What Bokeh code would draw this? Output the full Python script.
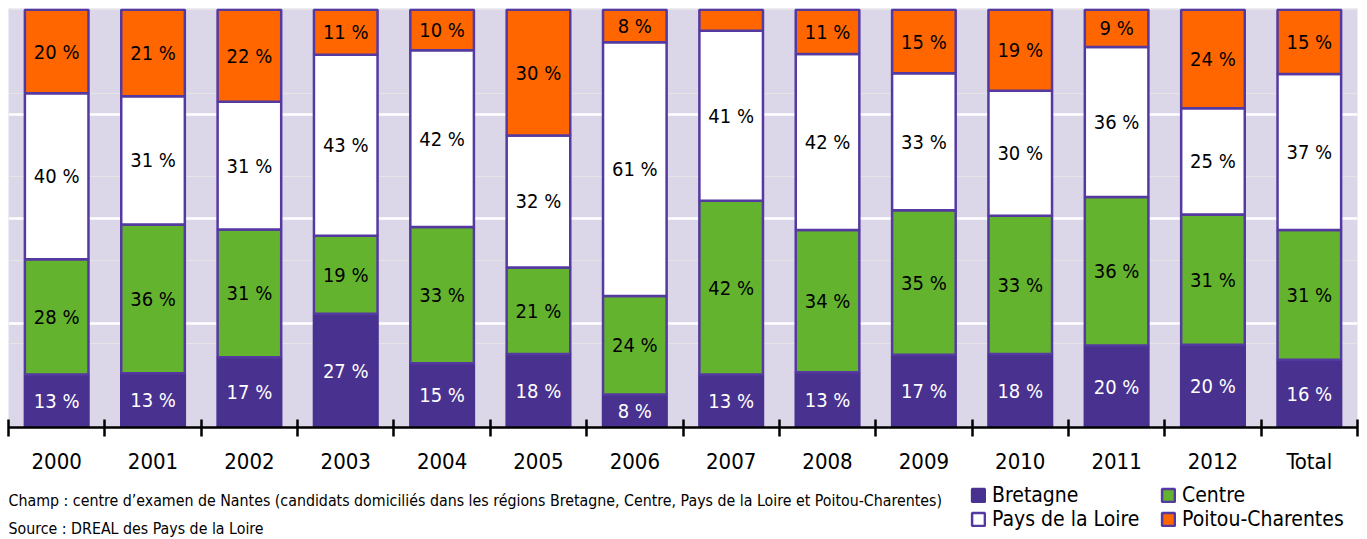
from bokeh.plotting import figure
from bokeh.layouts import column
from bokeh.models import (Range1d, FixedTicker, Legend, LegendItem,
                          ColumnDataSource, Grid)
from bokeh.embed import file_html
from bokeh.resources import INLINE
from bokeh.core.properties import value

# ---------------- data ----------------
categories = ["2000", "2001", "2002", "2003", "2004", "2005", "2006",
              "2007", "2008", "2009", "2010", "2011", "2012", "Total"]
bretagne = [12.7, 13.0, 16.8, 27.2, 15.4, 17.6, 7.9, 12.7, 13.2, 17.4, 17.6, 19.6, 19.8, 16.2]
centre = [27.6, 35.6, 30.6, 18.7, 32.6, 20.7, 23.6, 41.6, 34.1, 34.6, 33.1, 35.6, 31.2, 31.1]
pays_de_la_loire = [39.7, 30.7, 30.6, 43.3, 42.3, 31.6, 60.7, 40.7, 42.1, 32.8, 29.9, 35.9, 25.4, 37.3]
poitou_charentes = [20.0, 20.7, 22.0, 10.8, 9.7, 30.1, 7.8, 5.0, 10.6, 15.2, 19.4, 8.9, 23.6, 15.4]
series_names = ["Bretagne", "Centre", "Pays de la Loire", "Poitou-Charentes"]
note_champ = ("Champ : centre d\u2019examen de Nantes (candidats domicili\u00e9s dans les r\u00e9gions "
              "Bretagne, Centre, Pays de la Loire et Poitou-Charentes)")
note_source = "Source : DREAL des Pays de la Loire"

# ---------------- style ----------------
FONT = "Liberation Sans Narrow, DejaVu Sans Condensed, Noto Sans Condensed, Roboto"
PURPLE = "#48318f"
GREEN = "#64b32e"
ORANGE = "#ff6600"
WHITE = "#ffffff"
OUTLINE = "#5439a1"
BG = "#dbd7e9"
FILLS = [PURPLE, GREEN, WHITE, ORANGE]
LINES = [PURPLE, OUTLINE, OUTLINE, OUTLINE]

xs = [i + 0.5 for i in range(len(categories))]
src = ColumnDataSource(dict(x=xs, b=bretagne, c=centre, p=pays_de_la_loire, o=poitou_charentes))

LEFT, FRAME_W, RIGHT = 8, 1349, 9

# ---------------- main chart ----------------
p = figure(x_range=Range1d(0, len(categories)), y_range=Range1d(0, 100.3),
           output_backend="svg", toolbar_location=None,
           y_axis_location=None, min_border_left=LEFT, min_border_right=RIGHT,
           min_border_top=8, min_border_bottom=56)
p.frame_width = FRAME_W
p.frame_height = 419
p.background_fill_color = BG
p.border_fill_color = "white"
p.outline_line_color = None
p.xgrid.visible = False
p.add_layout(Grid(dimension=1, ticker=FixedTicker(ticks=[25, 50, 75]),
                  grid_line_color="white", grid_line_width=2.5))

p.vbar_stack(["b", "c", "p", "o"], x="x", width=0.66, source=src,
             fill_color=FILLS, line_color=LINES, line_width=2.5)

# segment labels
lx, ly, lt, lc = [], [], [], []
for i in range(len(categories)):
    bottom = 0.0
    for vals, col in ((bretagne, "white"), (centre, "black"),
                      (pays_de_la_loire, "black"), (poitou_charentes, "black")):
        v = vals[i]
        if v >= 6:
            lx.append(xs[i]); ly.append(bottom + v / 2)
            lt.append(f"{round(v)} %"); lc.append(col)
        bottom += v
p.text(x=lx, y=ly, text=lt, text_color=lc, text_font=value(FONT),
       text_font_size="20px", text_align="center", text_baseline="middle")

# x axis: boundary ticks as minor ticks, labels at centres
ax = p.xaxis[0]
ax.ticker = FixedTicker(ticks=xs, minor_ticks=list(range(len(categories) + 1)))
ax.major_label_overrides = {x: c for x, c in zip(xs, categories)}
ax.major_tick_in = 0
ax.major_tick_out = 0
ax.minor_tick_in = 8
ax.minor_tick_out = 9
ax.minor_tick_line_width = 2.5
ax.minor_tick_line_color = "black"
ax.axis_line_width = 2.5
ax.axis_line_color = "black"
ax.major_label_standoff = 12
ax.major_label_text_font = FONT
ax.major_label_text_font_size = "22px"
ax.major_label_text_color = "black"

# ---------------- footer (notes + legend), x in page pixels ----------------
FOOT_H = 55
f = figure(x_range=Range1d(LEFT, LEFT + FRAME_W), y_range=Range1d(0, FOOT_H),
           output_backend="svg", toolbar_location=None,
           min_border_left=LEFT, min_border_right=RIGHT, min_border_top=0, min_border_bottom=0,
           x_axis_location=None, y_axis_location=None)
f.frame_width = FRAME_W
f.frame_height = FOOT_H
f.outline_line_color = None
f.background_fill_color = "white"
f.border_fill_color = "white"
f.grid.visible = False

f.text(x=[8, 8], y=[38, 10], text=[note_champ, note_source], text_color="black",
       text_font=value(FONT), text_font_size="15.8px", text_baseline="middle", text_align="left")

# hidden copies of the series, only used as legend swatches
leg_rs = [f.vbar(x="x", top=col, width=0.66, source=src, fill_color=fc, line_color=lc_,
                 line_width=2.5, visible=False)
          for col, fc, lc_ in zip(["b", "c", "p", "o"], FILLS, LINES)]
legend = Legend(items=[LegendItem(label=n, renderers=[r]) for n, r in zip(series_names, leg_rs)],
                location=(962, 7), orientation="horizontal", ncols=2,
                glyph_width=16, glyph_height=16, label_standoff=6, spacing=0,
                label_width=168, padding=0, margin=0,
                border_line_alpha=0, background_fill_alpha=0,
                label_text_font=FONT, label_text_font_size="21px",
                label_text_color="black", label_text_line_height=1.0)
f.add_layout(legend)

layout = column(p, f, spacing=0)
open("out.html", "w").write(file_html(layout, INLINE))
